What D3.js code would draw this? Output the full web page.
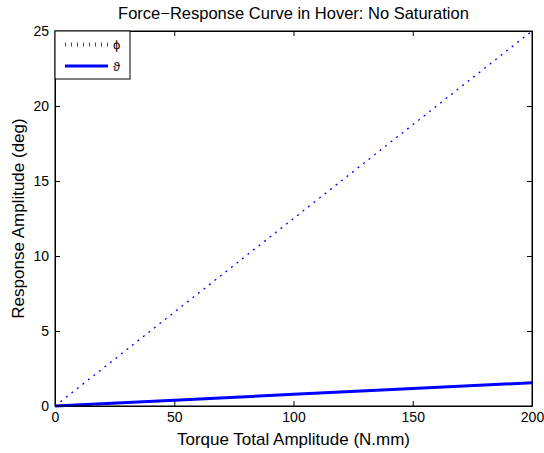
<!DOCTYPE html>
<html>
<head>
<script src="https://d3js.org/d3.v7.min.js"></script>
<style>
  body { margin: 0; background: #fff; }
  text { font-family: "Liberation Sans", Arial, sans-serif; }
</style>
</head>
<body>
<script>
// values
var torque = [0, 50, 100, 150, 200];
var phi = [0, 6.25, 12.5, 18.75, 25];
var theta = [0, 0.39, 0.78, 1.16, 1.55];
var xTicks = [0, 50, 100, 150, 200];
var yTicks = [0, 5, 10, 15, 20, 25];

var width = 544, height = 453;
// plot box edges (note: "top" is reserved on window)
var axLeft = 55, axRight = 532, axTop = 31, axBottom = 406;

var svg = d3.select("body").append("svg")
    .attr("width", width)
    .attr("height", height);

var x = d3.scaleLinear().domain([0, 200]).range([axLeft, axRight]);
var y = d3.scaleLinear().domain([0, 25]).range([axBottom, axTop]);

// axes with inward ticks (MATLAB style, on all four sides)
svg.append("g").attr("transform", "translate(0," + axBottom + ")")
    .call(d3.axisBottom(x).tickValues(xTicks).tickSizeInner(-5).tickSizeOuter(0).tickPadding(6));
svg.append("g").attr("transform", "translate(0," + axTop + ")")
    .call(d3.axisTop(x).tickValues(xTicks).tickSizeInner(-5).tickSizeOuter(0).tickFormat(""));
svg.append("g").attr("transform", "translate(" + axLeft + ",0)")
    .call(d3.axisLeft(y).tickValues(yTicks).tickSizeInner(-5).tickSizeOuter(0).tickPadding(6));
svg.append("g").attr("transform", "translate(" + axRight + ",0)")
    .call(d3.axisRight(y).tickValues(yTicks).tickSizeInner(-5).tickSizeOuter(0).tickFormat(""));

svg.selectAll(".domain").attr("stroke", "#000");
svg.selectAll(".tick line").attr("stroke", "#000");
svg.selectAll(".tick text").attr("font-size", 14).attr("fill", "#000")
    .attr("font-family", "Liberation Sans, Arial, sans-serif");

var line = d3.line()
    .x(function(d) { return x(d[0]); })
    .y(function(d) { return y(d[1]); });

svg.append("path")
    .datum(d3.zip(torque, phi))
    .attr("fill", "none")
    .attr("stroke", "#0000ff")
    .attr("stroke-width", 1.3)
    .attr("stroke-dasharray", "2,5")
    .attr("d", line);

svg.append("path")
    .datum(d3.zip(torque, theta))
    .attr("fill", "none")
    .attr("stroke", "#0000ff")
    .attr("stroke-width", 3)
    .attr("d", line);

// box
svg.append("rect")
    .attr("x", axLeft).attr("y", axTop)
    .attr("width", axRight - axLeft).attr("height", axBottom - axTop)
    .attr("fill", "none").attr("stroke", "#000");

// legend
var lg = svg.append("g");
lg.append("rect").attr("x", axLeft).attr("y", axTop)
    .attr("width", 75).attr("height", 48)
    .attr("fill", "#fff").attr("stroke", "#000");
lg.append("line").attr("x1", 65).attr("x2", 108).attr("y1", 44.5).attr("y2", 44.5)
    .attr("stroke", "#3333ff").attr("stroke-width", 4).attr("stroke-dasharray", "1,5");
lg.append("rect").attr("x", 64).attr("y", 43).attr("width", 46).attr("height", 0.6)
    .attr("fill", "none");
lg.append("text").attr("x", 113).attr("y", 49).attr("font-size", 13).text("\u03d5");
lg.append("line").attr("x1", 65).attr("x2", 108).attr("y1", 66).attr("y2", 66)
    .attr("stroke", "#0000ff").attr("stroke-width", 3);
lg.append("text").attr("x", 113).attr("y", 71).attr("font-size", 13).text("\u03d1");

// labels
svg.append("text").attr("x", (axLeft + axRight) / 2).attr("y", 19)
    .attr("text-anchor", "middle").attr("font-size", 16.5)
    .text("Force\u2212Response Curve in Hover: No Saturation");
svg.append("text").attr("x", (axLeft + axRight) / 2).attr("y", 445)
    .attr("text-anchor", "middle").attr("font-size", 17)
    .text("Torque Total Amplitude (N.mm)");
svg.append("text")
    .attr("transform", "translate(24," + (axTop + axBottom) / 2 + ") rotate(-90)")
    .attr("text-anchor", "middle").attr("font-size", 17)
    .text("Response Amplitude (deg)");
</script>
</body>
</html>
